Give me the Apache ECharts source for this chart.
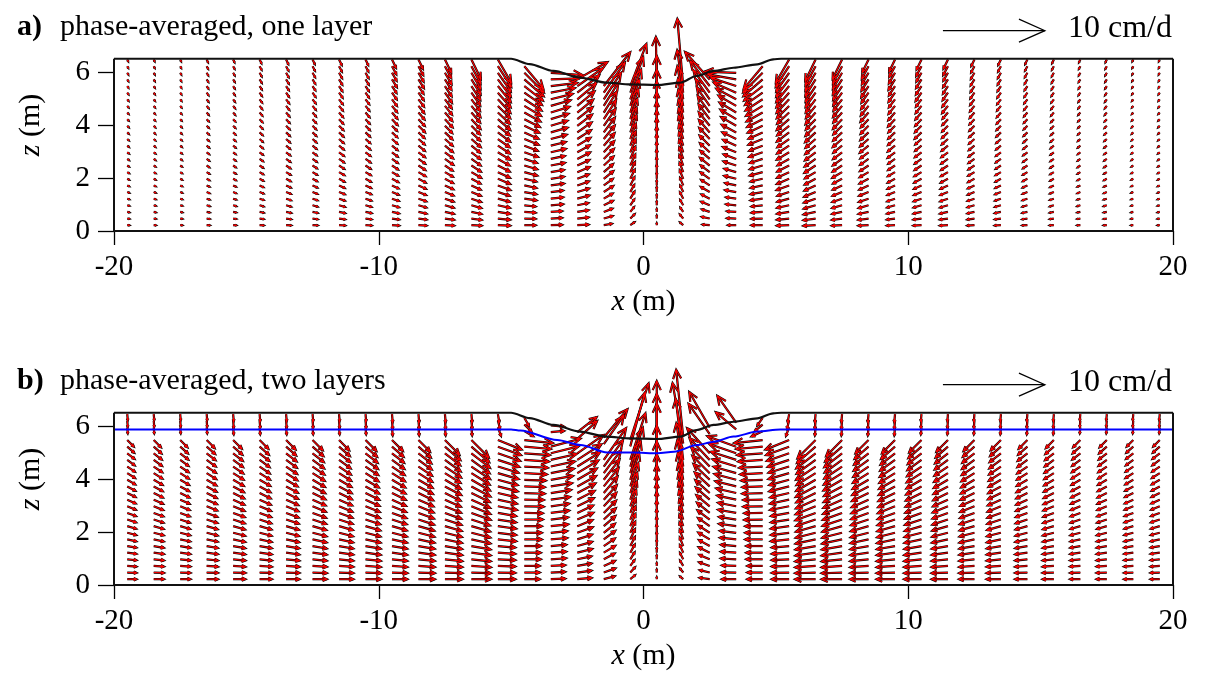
<!DOCTYPE html>
<html><head><meta charset="utf-8">
<script src="https://cdn.jsdelivr.net/npm/echarts@6/dist/echarts.min.js"></script>
<style>html,body{margin:0;padding:0;background:#fff}#c{width:1208px;height:679px}</style>
</head><body><div id="c"></div><script>
// ---------------- DATA ----------------
// column positions (m) of the vector grid
const COL_X = [-19.5,-18.5,-17.5,-16.5,-15.5,-14.5,-13.5,-12.5,-11.5,-10.5,-9.5,-8.5,-7.5,-6.5,-5.5,-4.5,-3.5,-2.5,-1.5,-0.5,0.5,1.5,2.5,3.5,4.5,5.5,6.5,7.5,8.5,9.5,10.5,11.5,12.5,13.5,14.5,15.5,16.5,17.5,18.5,19.5];
const ROW_Z0 = 0.22, ROW_DZ = 0.25;          // grid rows (m)
const X_TICKS = [-20,-10,0,10,20];
const Z_TICKS = [0,2,4,6];
// free surface (lake bed) and layer interface
const SURF_X = [-20,-5.0,-4.3,-3.4,-2.4,-1.4,-0.5,0.5,1.4,2.0,2.65,3.4,4.3,4.9,5.2,20];
const SURF_Z = [6.5,6.5,6.3,6.04,5.79,5.6,5.53,5.51,5.6,5.85,6.04,6.16,6.29,6.48,6.5,6.5];
const IFACE_X = [-20,-5.0,-4.65,-3.26,-2.38,-1.37,-0.37,0.53,1.15,2.03,2.65,3.4,4.3,5.17,20];
const IFACE_Z = [5.87,5.87,5.83,5.47,5.28,5.0,5.0,4.97,5.03,5.28,5.41,5.6,5.79,5.87,5.87];
const SCALE_VALUE = 100; // mm/d  (= 10 cm/d)

// ---- panel a: direction (deg) and speed (mm/d) per column, bottom -> top
const A_PROF_L = [-3,-8,-12,-16,-19,-22,-25,-28,-30,-33,-35,-37,-39,-41,-43,-45,-47,-49,-51,-53,-55,-57,-58,-60,-62,-64];
const A_PROF_R = [183,188,192,196,199,202,205,208,210,213,215,217,219,221,223,225,227,229,231,233,235,237,238,240,242,244];
const A_ANG = [A_PROF_L,A_PROF_L,A_PROF_L,A_PROF_L,A_PROF_L,A_PROF_L,A_PROF_L,A_PROF_L,A_PROF_L,A_PROF_L,A_PROF_L,A_PROF_L,A_PROF_L,A_PROF_L,
 [-2,-6,-9,-12,-15,-18,-20,-23,-25,-27,-29,-31,-33,-35,-37,-39,-41,-43,-45,-47,-49,-51,-53,-55,-57,-60],
 [0,-2,-4,-6,-8,-10,-12,-13,-15,-16,-18,-19,-21,-22,-24,-25,-27,-29,-31,-33,-35,-38,-41,-45,-50],
 [2,3,4,5,6,7,8,9,10,11,12,13,14,15,16,17,17,17,16,14,11,7,2,-4],
 [3,6,9,12,15,17,19,21,23,25,27,29,31,33,35,37,38,39,40,40,38,35,30],
 [10,16,21,26,30,33,36,39,41,43,45,47,49,51,53,55,57,58,58,57,55,52],
 [35,45,52,56,59,61,63,64,65,66,67,68,69,70,70,71,71,71,71,70,70,69],
 [90,90,90,90,90,90,90,90,90,90,90,90,90,90,90,90,90,90,90,90,90,91],
 [140,130,124,120,117,115,113,112,111,110,109,108,107,106,105,104,103,102,101,100,98,95],
 [175,168,162,157,153,150,147,145,143,141,139,137,135,133,131,129,127,126,125,125,126,128,132],
 [180,178,176,174,172,170,168,166,164,162,160,158,156,154,152,150,149,149,150,152,156,162,170,178],
 [180,182,184,186,188,190,192,193,195,196,198,199,201,202,204,205,207,209,211,213,215,218,221,225,230],
 [182,186,189,192,195,198,200,203,205,207,209,211,213,215,217,219,221,223,225,227,229,231,233,235,237,240],
 A_PROF_R,A_PROF_R,A_PROF_R,A_PROF_R,A_PROF_R,A_PROF_R,A_PROF_R,A_PROF_R,A_PROF_R,A_PROF_R,A_PROF_R,A_PROF_R,A_PROF_R,A_PROF_R];
const A_LEN = [2,2,2,3,3,4,5,5,6,6,
 [7,7,7,7,7,7,7,7,7,7,7,7,7,7,7,7,8,8,8,8,8,8,9,9,9,9],
 [8,8,8,8,8,8,8,8,8,8,8,8,8,8,8,9,9,9,9,9,9,9,10,10,10,10],
 [9,9,9,9,9,9,9,9,9,9,10,10,10,10,10,10,11,11,11,11,12,12,12,13,13,14],
 [10,10,10,10,10,10,10,10,11,11,11,11,11,12,12,12,13,13,14,14,15,16,17,18,19,21],
 [12,12,12,12,12,12,13,13,13,13,13,14,14,14,15,15,16,16,17,18,19,20,21,22,24,26],
 [11,11,11,11,12,12,12,12,13,13,13,14,14,15,15,16,17,18,19,20,21,23,25,27,29],
 [11,11,11,12,12,12,13,13,13,14,14,15,15,16,17,17,18,19,20,22,24,26,28,31],
 [11,11,11,11,12,12,12,12,13,13,14,14,15,16,17,18,19,20,22,24,27,30,34],
 [8,9,9,10,10,11,11,12,12,13,14,15,16,17,18,20,22,24,27,31,36,42],
 [5,6,6,7,8,8,9,10,11,12,13,14,15,16,18,19,21,24,27,31,37,44],
 [2,3,3,4,4,5,5,6,7,8,9,10,11,12,14,15,17,20,24,29,36,48],
 [4,5,5,6,7,7,8,9,10,11,12,13,14,15,17,18,20,23,27,33,42,66],
 [7,8,8,9,9,10,10,11,11,12,12,13,14,15,16,17,18,20,22,24,27,31,36],
 [8,9,9,10,10,11,11,12,12,13,13,14,14,15,16,17,18,19,20,22,24,26,28,31],
 [11,11,11,11,12,12,12,12,13,13,13,14,14,15,15,16,17,18,19,20,21,23,25,27,29],
 [12,12,12,12,12,12,13,13,13,13,13,14,14,14,15,15,16,16,17,18,19,20,21,22,24,26],
 [12,12,12,12,12,12,12,12,12,13,13,13,13,13,14,14,14,15,15,16,17,18,19,20,21,23],
 [10,10,10,10,10,10,10,10,11,11,11,11,11,12,12,12,13,13,14,14,15,16,17,18,19,21],
 [10,10,10,10,10,10,10,10,10,10,10,10,11,11,11,11,11,12,12,12,12,13,13,13,14,14],
 [8,8,8,8,8,8,8,8,8,8,8,9,9,9,9,9,10,10,10,10,11,11,12,12,12,13],
 [8,8,8,8,8,8,8,8,8,8,8,8,8,8,9,9,9,9,9,9,10,10,10,10,11,11],
 [8,8,8,8,8,8,8,8,8,8,8,8,8,8,8,8,8,8,9,9,9,9,9,9,10,10],
 7,6,5,4,3,3,2,2];

// ---- panel b, lower layer
const B_PROF_L = [0,-2,-4,-6,-8,-10,-12,-14,-16,-18,-20,-22,-24,-26,-28,-30,-32,-34,-36,-38,-41,-45];
const B_PROF_R = [180,182,184,186,188,190,192,194,196,198,200,202,204,206,208,210,212,214,216,218,221,225];
const B_ANG = [B_PROF_L,B_PROF_L,B_PROF_L,B_PROF_L,B_PROF_L,B_PROF_L,B_PROF_L,B_PROF_L,B_PROF_L,B_PROF_L,B_PROF_L,B_PROF_L,B_PROF_L,B_PROF_L,
 [0,-1,-2,-3,-4,-5,-6,-7,-8,-9,-10,-11,-12,-13,-14,-15,-16,-17,-18,-19,-20,-22],
 [0,0,0,0,0,0,0,0,0,0,-1,-1,-1,-2,-2,-2,-3,-3,-4,-4,-5,-6],
 [2,3,3,4,4,5,5,6,6,7,7,8,8,9,9,10,11,12,13,14,15],
 [5,8,10,12,14,16,18,20,22,23,25,26,27,28,29,30,31,32,33,35],
 [15,20,24,28,31,34,37,39,41,43,45,47,48,50,51,52,53,54,55],
 [40,48,54,58,61,63,65,66,67,68,69,70,70,71,71,72,72,72,72],
 [90,90,90,90,90,90,90,90,90,90,90,90,90,90,90,90,90,90,90],
 [140,128,121,117,114,112,110,109,108,107,106,105,104,103,102,101,100,99,97],
 [172,166,161,157,154,151,149,147,145,143,141,140,139,138,137,136,135,134,133,132],
 [180,179,178,177,176,175,174,173,172,171,170,169,168,167,166,165,164,163,162,161,160],
 [180,180,180,180,180,180,180,180,180,181,181,181,181,182,182,182,183,183,184,184,185,186],
 [180,181,182,183,184,185,186,187,188,189,190,191,192,193,194,195,196,197,198,199,200,202],
 B_PROF_R,B_PROF_R,B_PROF_R,B_PROF_R,B_PROF_R,B_PROF_R,B_PROF_R,B_PROF_R,B_PROF_R,B_PROF_R,B_PROF_R,B_PROF_R,B_PROF_R,B_PROF_R];
const B_LEN = [9,10,10,11,12,12,13,14,14,15,15,16,
 [17,17,17,17,17,17,17,17,17,17,17,17,17,17,18,18,18,19,19,19,20,20],
 [19,19,19,19,19,19,19,19,19,19,20,20,20,20,21,21,21,22,22,23,23,24],
 [17,17,17,17,17,17,18,18,18,18,18,19,19,19,20,20,21,21,22,23,24,25],
 [15,15,15,16,16,16,17,17,17,18,18,19,19,20,20,21,22,23,24,25,26,28],
 [14,14,14,15,15,15,16,16,17,17,18,18,19,20,21,22,23,24,26,28,30],
 [14,14,14,14,15,15,15,16,16,17,17,18,19,20,21,22,24,26,28,31],
 [11,12,12,12,13,13,14,14,15,16,17,18,19,21,23,25,28,32,38],
 [6,7,7,8,9,10,11,12,13,14,15,17,19,21,24,28,33,40,48],
 [2,3,3,4,5,6,7,8,9,10,12,14,16,18,21,25,31,40,55],
 [4,5,6,7,8,9,10,11,12,13,14,16,18,20,23,27,33,43,60],
 [10,10,11,11,12,12,13,13,14,15,16,17,18,19,20,22,24,26,29,33],
 [14,14,14,15,15,15,16,16,17,17,18,18,19,20,21,22,23,24,26,28,30],
 [15,15,15,16,16,16,17,17,17,18,18,19,19,20,20,21,22,23,24,25,26,28],
 [17,17,17,17,17,17,18,18,18,18,18,19,19,19,20,20,21,21,22,23,24,25],
 [20,20,20,20,20,20,20,20,20,20,21,21,21,21,22,22,22,23,23,24,24,25],
 [20,20,20,20,20,20,20,20,20,20,20,20,20,20,20,21,21,21,21,22,22,22],
 18,18,17,16,15,14,12,11,10,10,9,9];

// ---- panel b, upper layer (rows counted down from the surface)
const BU_PROF_L = [-85,-85,-85];
const BU_PROF_R = [265,265,265];
const BU_ANG = [BU_PROF_L,BU_PROF_L,BU_PROF_L,BU_PROF_L,BU_PROF_L,BU_PROF_L,BU_PROF_L,BU_PROF_L,BU_PROF_L,BU_PROF_L,BU_PROF_L,BU_PROF_L,BU_PROF_L,BU_PROF_L,
 [-80,-75,-70],[-60,-45,-30],[-5,5],[38,42],[50,55],[72,75],[90,90],[96,100],[120,125],[125,140],[235,220,205],[260,255,250],
 BU_PROF_R,BU_PROF_R,BU_PROF_R,BU_PROF_R,BU_PROF_R,BU_PROF_R,BU_PROF_R,BU_PROF_R,BU_PROF_R,BU_PROF_R,BU_PROF_R,BU_PROF_R,BU_PROF_R,BU_PROF_R];
const BU_LEN = [6,6,6,6,7,7,7,7,7,7,8,8,8,8,
 [8,8,9],[9,10,10],[13,13],[24,26],[36,34],[58,54],[58,52],[66,60],[40,36],[32,26],[9,10,12],[8,8,9],
 8,8,8,8,7,7,7,7,7,7,6,6,6,6];

// ---------------- DRAWING ----------------
const K = 3.853 / 100;   // plot metres per mm/d (arrow scale)
const FONT = 'Liberation Serif';

function surfAt(x) {
  for (let i = 0; i < SURF_X.length - 1; i++) {
    if (x >= SURF_X[i] && x <= SURF_X[i + 1]) {
      const t = (x - SURF_X[i]) / (SURF_X[i + 1] - SURF_X[i]);
      return SURF_Z[i] + t * (SURF_Z[i + 1] - SURF_Z[i]);
    }
  }
  return 6.5;
}
function buildLower(angs, lens) {
  const out = [];
  COL_X.forEach((x, c) => {
    const a = angs[c], l = lens[c];
    for (let r = 0; r < a.length; r++) out.push([x, ROW_Z0 + r * ROW_DZ, a[r], Array.isArray(l) ? l[r] : l]);
  });
  return out;
}
function buildUpper(angs, lens) {
  const out = [];
  COL_X.forEach((x, c) => {
    const a = angs[c], l = lens[c], top = surfAt(x) - 0.05;
    for (let r = 0; r < a.length; r++) out.push([x, top - r * ROW_DZ, a[r], Array.isArray(l) ? l[r] : l]);
  });
  return out;
}
const dataA = buildLower(A_ANG, A_LEN);
const dataB = buildLower(B_ANG, B_LEN).concat(buildUpper(BU_ANG, BU_LEN));

function arrowRender(color, width, fixedHead) {
  return function (params, api) {
    const x = api.value(0), z = api.value(1), ang = api.value(2) * Math.PI / 180, len = api.value(3);
    const p0 = api.coord([x, z]);
    const p1 = api.coord([x + len * K * Math.cos(ang), z + len * K * Math.sin(ang)]);
    const dx = p1[0] - p0[0], dy = p1[1] - p0[1];
    const L = Math.hypot(dx, dy);
    if (L < 0.01) return null;
    const ux = dx / L, uy = dy / L;
    const h = fixedHead ? fixedHead[0] : Math.max(1, Math.min(0.3 * L, 9));
    const w = fixedHead ? fixedHead[1] : 0.45 * h;
    const bx = p1[0] - ux * h, by = p1[1] - uy * h;
    return {
      type: 'group', children: [
        { type: 'line', shape: { x1: p0[0], y1: p0[1], x2: p1[0], y2: p1[1] }, style: { stroke: color, lineWidth: width } },
        { type: 'polyline', shape: { points: [[bx - uy * w, by + ux * w], [p1[0], p1[1]], [bx + uy * w, by - ux * w]] }, style: { stroke: color, lineWidth: width, fill: null } }
      ]
    };
  };
}

const GRIDS = [{ left: 114, top: 19, width: 1059, height: 212 }, { left: 114, top: 373, width: 1059, height: 212 }];
const xAxes = [], yAxes = [], series = [];
const richName = { i: { fontStyle: 'italic', fontFamily: FONT, fontSize: 30, color: '#000' } };
[0, 1].forEach(g => {
  xAxes.push({
    gridIndex: g, type: 'value', min: -20, max: 20, interval: 10,
    axisLine: { show: false, onZero: false },
    axisTick: { show: true, length: 14, customValues: X_TICKS, lineStyle: { color: '#000', width: 1.3 } },
    axisLabel: { customValues: X_TICKS, fontFamily: FONT, fontSize: 29, color: '#000', margin: 22 },
    splitLine: { show: false },
    name: '{i|x} (m)', nameLocation: 'middle', nameGap: 56,
    nameTextStyle: { fontFamily: FONT, fontSize: 30, color: '#000', rich: richName }
  });
  yAxes.push({
    gridIndex: g, type: 'value', min: 0, max: 8, interval: 2,
    axisLine: { show: false, onZero: false },
    axisTick: { show: true, length: 16, customValues: Z_TICKS, lineStyle: { color: '#000', width: 1.3 } },
    axisLabel: { customValues: Z_TICKS, fontFamily: FONT, fontSize: 29, color: '#000', margin: 24 },
    splitLine: { show: false },
    name: '{i|z} (m)', nameLocation: 'middle', nameGap: 68, nameRotate: 90,
    nameTextStyle: { fontFamily: FONT, fontSize: 30, color: '#000', rich: richName }
  });
  const data = g === 0 ? dataA : dataB;
  series.push({ type: 'custom', xAxisIndex: g, yAxisIndex: g, data: data, clip: false, silent: true, z: 2, encode: { x: 0, y: 1 }, renderItem: arrowRender('#000000', 2.2) });
  series.push({ type: 'custom', xAxisIndex: g, yAxisIndex: g, data: data, clip: false, silent: true, z: 3, encode: { x: 0, y: 1 }, renderItem: arrowRender('#ff0000', 1.1) });
  // scale arrow 10 cm/d
  series.push({ type: 'custom', xAxisIndex: g, yAxisIndex: g, data: [[11.31, 7.56, 0, SCALE_VALUE]], clip: false, silent: true, z: 5, encode: { x: 0, y: 1 }, renderItem: arrowRender('#000000', 1.2, [26, 11.5]) });
  // surface
  series.push({ type: 'line', xAxisIndex: g, yAxisIndex: g, data: SURF_X.map((x, i) => [x, SURF_Z[i]]), symbol: 'none', smooth: 0.3, smoothMonotone: 'x', silent: true, z: 6, lineStyle: { color: '#111', width: 2.2 } });
  // domain box
  series.push({ type: 'line', xAxisIndex: g, yAxisIndex: g, data: [[-20, 6.5], [-20, 0], [20, 0], [20, 6.5]], symbol: 'none', silent: true, z: 6, lineStyle: { color: '#111', width: 2 } });
  if (g === 1) {
    series.push({ type: 'line', xAxisIndex: 1, yAxisIndex: 1, data: IFACE_X.map((x, i) => [x, IFACE_Z[i]]), symbol: 'none', smooth: 0.3, smoothMonotone: 'x', silent: true, z: 5, lineStyle: { color: '#0000ff', width: 2 } });
  }
});

const PANEL_DY = 354;
const graphics = [];
[['a)', 'phase-averaged, one layer'], ['b)', 'phase-averaged, two layers']].forEach((t, g) => {
  const dy = g * PANEL_DY;
  graphics.push({ type: 'text', x: 17, y: 27 + dy, style: { text: t[0], font: 'bold 30px "' + FONT + '"', fill: '#000', verticalAlign: 'middle' } });
  graphics.push({ type: 'text', x: 60, y: 27 + dy, style: { text: t[1], font: '30px "' + FONT + '"', fill: '#000', verticalAlign: 'middle' } });
  graphics.push({ type: 'text', x: 1068, y: 29 + dy, style: { text: (SCALE_VALUE / 10) + ' cm/d', font: '32px "' + FONT + '"', fill: '#000', verticalAlign: 'middle' } });
});

const chart = echarts.init(document.getElementById('c'), null, { renderer: 'canvas' });
chart.setOption({
  animation: false,
  backgroundColor: '#fff',
  grid: GRIDS,
  xAxis: xAxes,
  yAxis: yAxes,
  series: series,
  graphic: graphics
});
</script></body></html>
